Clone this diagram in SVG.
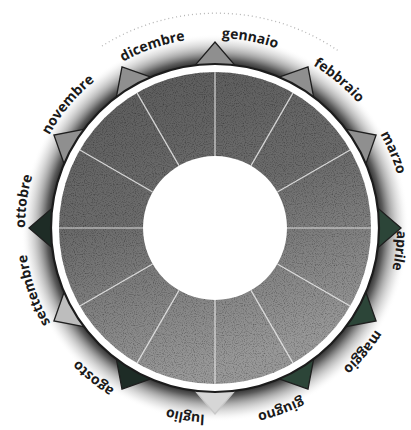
<svg xmlns="http://www.w3.org/2000/svg" xmlns:xlink="http://www.w3.org/1999/xlink" width="411" height="430" viewBox="0 0 411 430">
<defs>
<style>
.lbl{font-family:"Open Sans","Noto Sans","Liberation Sans",sans-serif;font-weight:700;font-size:14px;fill:#1a1a1a}
.tooth{stroke:#1e1e1e;stroke-width:1.3;stroke-linejoin:miter}
.grey{fill:#8f8f8f}
.dark{fill:#2c4538}
.darker{fill:#1e2c26}
.light{fill:#d6d6d6;stroke:#c8c8c8}
.pale{fill:#bdbdbd}
.div{stroke:#ececec;stroke-width:1.2;stroke-opacity:0.85}
</style>
<path id="arc" d="M50.46,133 A190,190 0 0 1 379.54,133" fill="none"/>
<polygon id="tri" points="193.6,67 236.4,67 215,42"/>
<radialGradient id="halo" cx="215" cy="228" r="194" gradientUnits="userSpaceOnUse">
<stop offset="0.84" stop-color="#262626"/>
<stop offset="0.87" stop-color="#4a4a4a" stop-opacity="0.9"/>
<stop offset="0.91" stop-color="#7a7a7a" stop-opacity="0.6"/>
<stop offset="0.96" stop-color="#b0b0b0" stop-opacity="0.25"/>
<stop offset="1" stop-color="#fff" stop-opacity="0"/>
</radialGradient>
<linearGradient id="disc" x1="0" y1="0" x2="0.3" y2="1">
<stop offset="0" stop-color="#5a5a5a"/>
<stop offset="0.5" stop-color="#6c6c6c"/>
<stop offset="1" stop-color="#989898"/>
</linearGradient>
<filter id="speck" x="0" y="0" width="1" height="1">
<feTurbulence type="fractalNoise" baseFrequency="0.9" numOctaves="1" seed="3" result="n"/>
<feColorMatrix in="n" type="matrix" values="0 0 0 0 0  0 0 0 0 0  0 0 0 0 0  0 0 0 1.6 -0.75" result="a"/>
<feComposite in="a" in2="SourceGraphic" operator="in" result="s"/>
<feMerge><feMergeNode in="SourceGraphic"/><feMergeNode in="s"/></feMerge>
</filter>
</defs>
<rect width="411" height="430" fill="#fff"/>

<g id="halo-ring">
<circle cx="215" cy="228" r="194" fill="url(#halo)"/>
<path d="M102,46 A216,216 0 0 1 340,52" fill="none" stroke="#b4b4b4" stroke-width="1.3" stroke-dasharray="1 3"/>
</g>

<g id="teeth">
<use xlink:href="#tri" class="tooth grey" transform="rotate(0 215 228)"/>
<use xlink:href="#tri" class="tooth grey" transform="rotate(30 215 228)"/>
<use xlink:href="#tri" class="tooth grey" transform="rotate(60 215 228)"/>
<use xlink:href="#tri" class="tooth dark" transform="rotate(90 215 228)"/>
<use xlink:href="#tri" class="tooth dark" transform="rotate(120 215 228)"/>
<use xlink:href="#tri" class="tooth dark" transform="rotate(150 215 228)"/>
<use xlink:href="#tri" class="tooth light" transform="rotate(180 215 228)"/>
<use xlink:href="#tri" class="tooth darker" transform="rotate(210 215 228)"/>
<use xlink:href="#tri" class="tooth pale" transform="rotate(240 215 228)"/>
<use xlink:href="#tri" class="tooth darker" transform="rotate(270 215 228)"/>
<use xlink:href="#tri" class="tooth grey" transform="rotate(300 215 228)"/>
<use xlink:href="#tri" class="tooth grey" transform="rotate(330 215 228)"/>
</g>

<g id="ring">
<circle cx="215" cy="228" r="164" fill="#fff" stroke="#1c1c1c" stroke-width="2.2"/>
<circle cx="215" cy="228" r="156" fill="url(#disc)" filter="url(#speck)"/>
<circle cx="215" cy="228" r="72" fill="#fff"/>
</g>

<g id="connectors">
<line class="div" x1="215" y1="156" x2="215" y2="72"/>
<line class="div" x1="215" y1="156" x2="215" y2="72" transform="rotate(30 215 228)"/>
<line class="div" x1="215" y1="156" x2="215" y2="72" transform="rotate(60 215 228)"/>
<line class="div" x1="215" y1="156" x2="215" y2="72" transform="rotate(90 215 228)"/>
<line class="div" x1="215" y1="156" x2="215" y2="72" transform="rotate(120 215 228)"/>
<line class="div" x1="215" y1="156" x2="215" y2="72" transform="rotate(150 215 228)"/>
<line class="div" x1="215" y1="156" x2="215" y2="72" transform="rotate(180 215 228)"/>
<line class="div" x1="215" y1="156" x2="215" y2="72" transform="rotate(210 215 228)"/>
<line class="div" x1="215" y1="156" x2="215" y2="72" transform="rotate(240 215 228)"/>
<line class="div" x1="215" y1="156" x2="215" y2="72" transform="rotate(270 215 228)"/>
<line class="div" x1="215" y1="156" x2="215" y2="72" transform="rotate(300 215 228)"/>
<line class="div" x1="215" y1="156" x2="215" y2="72" transform="rotate(330 215 228)"/>
</g>

<g id="gennaio" transform="rotate(10.5 215 228)"><text class="lbl" text-anchor="middle"><textPath xlink:href="#arc" startOffset="50%">gennaio</textPath></text></g>
<g id="febbraio" transform="rotate(40 215 228)"><text class="lbl" text-anchor="middle"><textPath xlink:href="#arc" startOffset="50%">febbraio</textPath></text></g>
<g id="marzo" transform="rotate(67 215 228)"><text class="lbl" text-anchor="middle"><textPath xlink:href="#arc" startOffset="50%">marzo</textPath></text></g>
<g id="aprile" transform="rotate(97 215 228)"><text class="lbl" text-anchor="middle" dy="8"><textPath xlink:href="#arc" startOffset="50%">aprile</textPath></text></g>
<g id="maggio" transform="rotate(130 215 228)"><text class="lbl" text-anchor="middle"><textPath xlink:href="#arc" startOffset="50%">maggio</textPath></text></g>
<g id="giugno" transform="rotate(160 215 228)"><text class="lbl" text-anchor="middle"><textPath xlink:href="#arc" startOffset="50%">giugno</textPath></text></g>
<g id="luglio" transform="rotate(189 215 228)"><text class="lbl" text-anchor="middle" dy="3"><textPath xlink:href="#arc" startOffset="50%">luglio</textPath></text></g>
<g id="agosto" transform="rotate(219 215 228)"><text class="lbl" text-anchor="middle"><textPath xlink:href="#arc" startOffset="50%">agosto</textPath></text></g>
<g id="settembre" transform="rotate(251 215 228)"><text class="lbl" text-anchor="middle"><textPath xlink:href="#arc" startOffset="50%">settembre</textPath></text></g>
<g id="ottobre" transform="rotate(278 215 228)"><text class="lbl" text-anchor="middle"><textPath xlink:href="#arc" startOffset="50%">ottobre</textPath></text></g>
<g id="novembre" transform="rotate(310 215 228)"><text class="lbl" text-anchor="middle"><textPath xlink:href="#arc" startOffset="50%">novembre</textPath></text></g>
<g id="dicembre" transform="rotate(341 215 228)"><text class="lbl" text-anchor="middle"><textPath xlink:href="#arc" startOffset="50%">dicembre</textPath></text></g>
</svg>
